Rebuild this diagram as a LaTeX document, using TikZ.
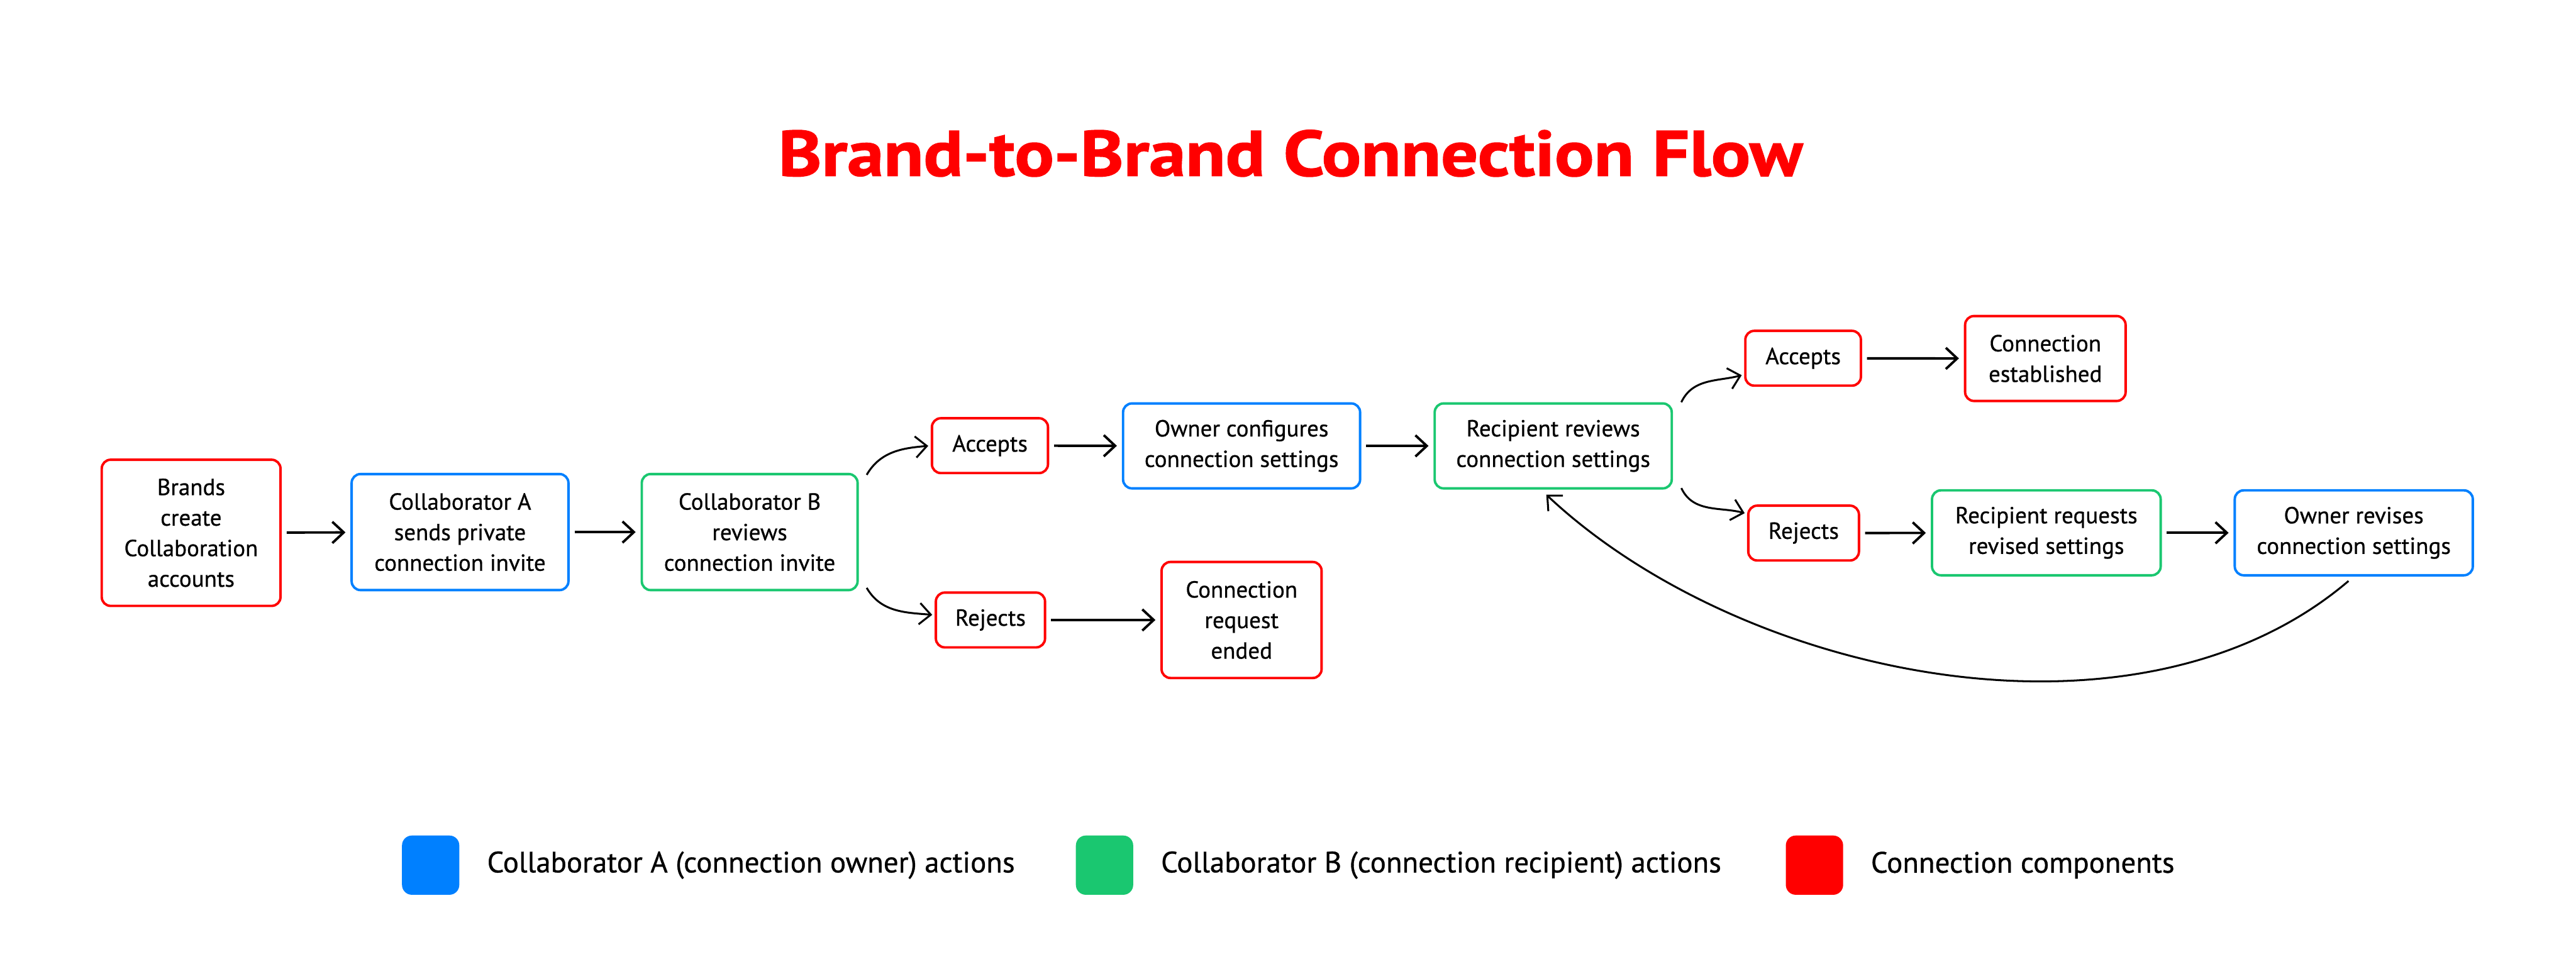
\documentclass[tikz,border=0pt]{standalone}
\usepackage{fontspec}
\setmainfont{PT Sans}
\newfontfamily\boxfont[FakeBold=0.7]{PT Sans}
\newfontfamily\titlefont[FakeStretch=1.14,FakeBold=1.5]{PT Sans}
\usepackage{tikz}
\usepackage{xcolor}
\usetikzlibrary{arrows.meta,positioning}
\definecolor{ownerblue}{RGB}{0,128,255}
\definecolor{recipgreen}{RGB}{26,199,112}
\definecolor{compred}{RGB}{255,0,0}

\begin{document}
\begin{tikzpicture}[
    flowbox/.style={draw, line width=1.4pt, rounded corners=0.18cm, align=center, inner sep=0pt,
        font=\boxfont\fontsize{13.4pt}{17.6pt}\selectfont},
    owner/.style={flowbox, draw=ownerblue},
    recipient/.style={flowbox, draw=recipgreen},
    comp/.style={flowbox, draw=compred},
    oneline/.style={minimum height=1.11cm},
    twoline/.style={minimum height=1.72cm},
    threeline/.style={minimum height=2.35cm},
    fourline/.style={minimum height=2.96cm},
    arrow/.style={-{Straight Barb[length=2.3mm,width=4.3mm]}, line width=1.4pt, shorten <=1mm, shorten >=1mm},
    curvearrow/.style={-{Straight Barb[length=2.3mm,width=4.3mm]}, line width=1.1pt},
    swatch/.style={rounded corners=0.2cm, minimum width=1.16cm, minimum height=1.2cm, inner sep=0pt},
    legtext/.style={font=\boxfont\fontsize{17pt}{20pt}\selectfont, inner sep=0pt, anchor=west}
]
    \fill[white] (0,0) rectangle (52.16,-19.52);
    \useasboundingbox (0,0) rectangle (52.16,-19.52);

    \node[font=\titlefont\bfseries\fontsize{37pt}{44pt}\selectfont, text=compred, anchor=base] (title) at (26.13,-3.56) {Brand-to-Brand Connection Flow};

    % main flow
    \node[comp, fourline, minimum width=3.62cm] (brands) at (3.87,-10.79) {Brands\\create\\Collaboration\\accounts};
    \node[owner, threeline, minimum width=4.39cm] (sendA) at (9.315,-10.775) {Collaborator A\\sends private\\connection invite};
    \node[recipient, threeline, minimum width=4.37cm] (revB) at (15.18,-10.775) {Collaborator B\\reviews\\connection invite};
    \node[comp, oneline, minimum width=2.35cm] (acc1) at (20.045,-9.025) {Accepts};
    \node[comp, oneline, minimum width=2.21cm] (rej1) at (20.055,-12.555) {Rejects};
    \node[owner, twoline, minimum width=4.8cm] (config) at (25.14,-9.03) {Owner configures\\connection settings};
    \node[recipient, twoline, minimum width=4.8cm] (recB) at (31.45,-9.03) {Recipient reviews\\connection settings};
    \node[comp, threeline, minimum width=3.24cm] (ended) at (25.14,-12.555) {Connection\\request\\ended};
    \node[comp, oneline, minimum width=2.34cm] (acc2) at (36.51,-7.255) {Accepts};
    \node[comp, twoline, minimum width=3.25cm] (est) at (41.415,-7.26) {Connection\\established};
    \node[comp, oneline, minimum width=2.24cm] (rej2) at (36.52,-10.795) {Rejects};
    \node[recipient, twoline, minimum width=4.63cm] (request) at (41.435,-10.79) {Recipient requests\\revised settings};
    \node[owner, twoline, minimum width=4.82cm] (revise) at (47.66,-10.79) {Owner revises\\connection settings};

    \draw[arrow] (brands) -- (sendA);
    \draw[arrow] (sendA) -- (revB);
    \draw[arrow] (acc1) -- (config);
    \draw[arrow] (config) -- (recB);
    \draw[arrow] (rej1) -- (ended);
    \draw[arrow] (acc2) -- (est);
    \draw[arrow] (rej2) -- (request);
    \draw[arrow] (request) -- (revise);

    % branches
    \draw[curvearrow, shorten >=0.5mm] ([xshift=1.6mm,yshift=-0.4mm]revB.north east) to[out=60,in=185] (acc1.west);
    \draw[curvearrow, shorten >=0.5mm] ([xshift=1.6mm,yshift=0.7mm]revB.south east) to[out=-60,in=175] ([yshift=1mm]rej1.west);
    \draw[curvearrow, shorten >=0.5mm] ([xshift=1.7mm]recB.north east) to[out=65,in=195] ([yshift=-3.3mm]acc2.west);
    \draw[curvearrow, shorten >=0.5mm] ([xshift=1.7mm,yshift=0.3mm]recB.south east) to[out=-65,in=165] ([yshift=3.9mm]rej2.west);

    % loop back
    \draw[curvearrow, shorten <=1.4mm, shorten >=1.5mm] (revise.south) .. controls +(-4.4,-3.75) and +(4.05,-3.8) .. ([xshift=-2.5mm]recB.south);

    % legend
    \node[swatch, fill=ownerblue] (legA) at (8.72,-17.52) {};
    \node[legtext, right=0.55cm of legA] (legAtext) {Collaborator A (connection owner) actions};
    \node[swatch, fill=recipgreen] (legB) at (22.365,-17.52) {};
    \node[legtext, right=0.55cm of legB] (legBtext) {Collaborator B (connection recipient) actions};
    \node[swatch, fill=compred] (legC) at (36.74,-17.52) {};
    \node[legtext, right=0.55cm of legC] (legCtext) {Connection components};
\end{tikzpicture}
\end{document}
